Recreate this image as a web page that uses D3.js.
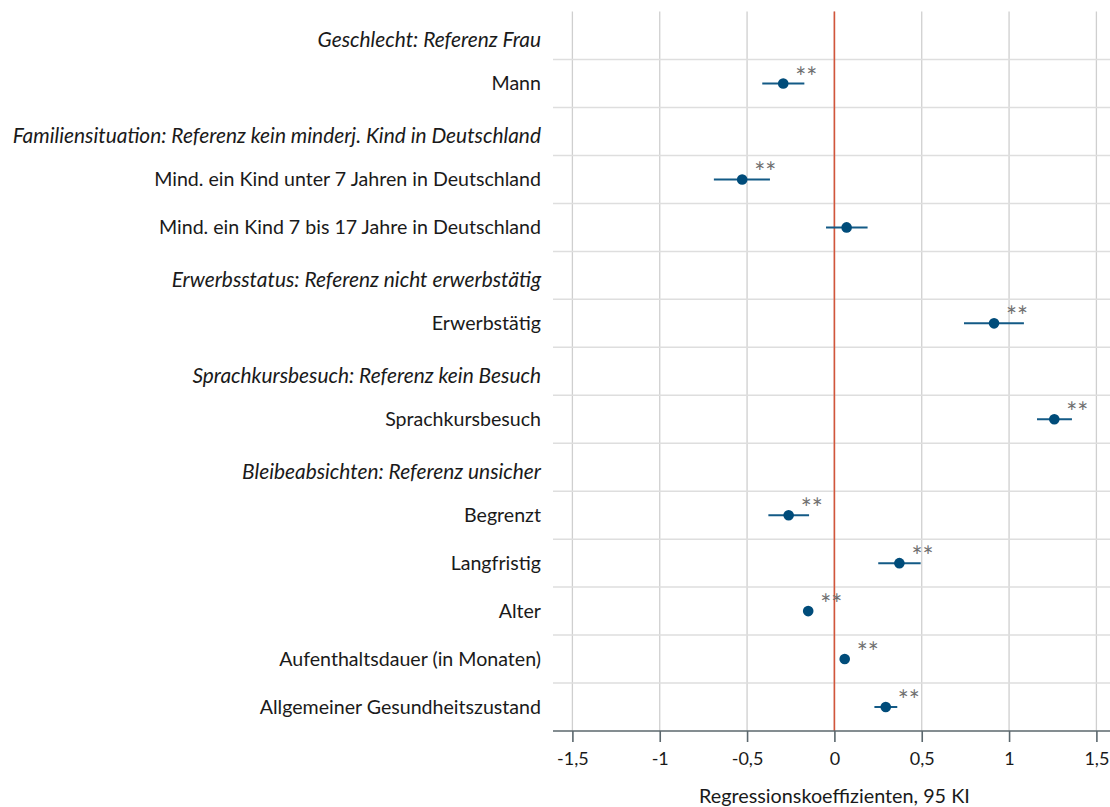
<!DOCTYPE html>
<html>
<head>
<meta charset="utf-8">
<script src="https://cdn.jsdelivr.net/npm/d3@7"></script>
<style>
  html, body { margin: 0; padding: 0; background: #fff; }
  svg { display: block; font-family: Lato, "Open Sans", sans-serif; }
</style>
</head>
<body>
<svg id="chart" width="1110" height="807"></svg>
<script>
// ---- data ----
const labels = [
  "Geschlecht: Referenz Frau",
  "Mann",
  "Familiensituation: Referenz kein minderj. Kind in Deutschland",
  "Mind. ein Kind unter 7 Jahren in Deutschland",
  "Mind. ein Kind 7 bis 17 Jahre in Deutschland",
  "Erwerbsstatus: Referenz nicht erwerbstätig",
  "Erwerbstätig",
  "Sprachkursbesuch: Referenz kein Besuch",
  "Sprachkursbesuch",
  "Bleibeabsichten: Referenz unsicher",
  "Begrenzt",
  "Langfristig",
  "Alter",
  "Aufenthaltsdauer (in Monaten)",
  "Allgemeiner Gesundheitszustand"
];
const isHeader = [true, false, true, false, false, true, false, true, false, true, false, false, false, false, false];
const coef   = [null, -0.293, null, -0.528, 0.070, null, 0.914, null, 1.259, null, -0.262, 0.372, -0.150, 0.059, 0.294];
const ciLow  = [null, -0.413, null, -0.690, -0.048, null, 0.742, null, 1.160, null, -0.378, 0.251, -0.156, 0.053, 0.229];
const ciHigh = [null, -0.172, null, -0.369, 0.190, null, 1.085, null, 1.360, null, -0.145, 0.494, -0.144, 0.065, 0.360];
const signif = [null, "**", null, "**", "", null, "**", null, "**", null, "**", "**", "**", "**", "**"];
const xTicks = [-1.5, -1, -0.5, 0, 0.5, 1, 1.5];
const xTitle = "Regressionskoeffizienten, 95 KI";

// ---- layout ----
const svg = d3.select("#chart");
const plotLeft = 553, plotRight = 1110, plotTop = 11.6, plotBottom = 731;
const labelX = 541;

const x = d3.scaleLinear().domain([-1.5, 1.5]).range([572.4, 1096.4]);
const y = d3.scaleBand().domain(d3.range(labels.length)).range([plotTop, plotBottom]);
const yc = i => y(i) + y.bandwidth() / 2;

// vertical grid lines
svg.append("g").selectAll("line").data(xTicks).join("line")
  .attr("x1", d => x(d)).attr("x2", d => x(d))
  .attr("y1", plotTop).attr("y2", plotBottom)
  .attr("stroke", "#cfcfcf").attr("stroke-width", 1.3);

// horizontal grid lines (between rows)
svg.append("g").selectAll("line").data(d3.range(1, labels.length)).join("line")
  .attr("x1", plotLeft).attr("x2", plotRight)
  .attr("y1", d => y(d)).attr("y2", d => y(d))
  .attr("stroke", "#dedede").attr("stroke-width", 1.5);

// zero reference line
svg.append("line")
  .attr("x1", x(0)).attr("x2", x(0))
  .attr("y1", plotTop).attr("y2", plotBottom)
  .attr("stroke", "#d2553b").attr("stroke-width", 1.6);

// x axis
const axisG = svg.append("g").attr("transform", `translate(0,${plotBottom})`);
axisG.append("line").attr("x1", plotLeft).attr("x2", plotRight)
  .attr("y1", 0).attr("y2", 0).attr("stroke", "#5b676d").attr("stroke-width", 1.6);
const xAxis = d3.axisBottom(x).tickValues(xTicks).tickSize(11).tickPadding(10)
  .tickFormat(d => String(d).replace(".", ","));
const ax = svg.append("g").attr("transform", `translate(0,${plotBottom})`).call(xAxis);
ax.select(".domain").remove();
ax.selectAll(".tick line").attr("stroke", "#5b676d").attr("stroke-width", 1.6);
ax.selectAll(".tick text").attr("fill", "#1a1a1a").style("font-size", "18px")
  .style("font-family", "Lato, sans-serif");

svg.append("text")
  .attr("x", x(0)).attr("y", 803)
  .attr("text-anchor", "middle")
  .attr("fill", "#1a1a1a")
  .style("font-size", "19.8px")
  .text(xTitle);

// row labels
svg.append("g").selectAll("text").data(labels).join("text")
  .attr("x", labelX)
  .attr("y", (d, i) => yc(i) + (isHeader[i] ? 4 : 0))
  .attr("dy", "0.35em")
  .attr("text-anchor", "end")
  .attr("fill", "#1a1a1a")
  .style("font-size", (d, i) => isHeader[i] ? "20.9px" : "19.6px")
  .style("font-style", (d, i) => isHeader[i] ? "italic" : "normal")
  .text(d => d);

const rows = d3.range(labels.length).filter(i => coef[i] !== null);

// CI lines
svg.append("g").selectAll("line").data(rows).join("line")
  .attr("x1", i => x(ciLow[i])).attr("x2", i => x(ciHigh[i]))
  .attr("y1", i => yc(i)).attr("y2", i => yc(i))
  .attr("stroke", "#135a86").attr("stroke-width", 2);

// points
svg.append("g").selectAll("circle").data(rows).join("circle")
  .attr("cx", i => x(coef[i])).attr("cy", i => yc(i))
  .attr("r", 5.3)
  .attr("fill", "#004c7a");

// significance stars
svg.append("g").selectAll("text").data(rows).join("text")
  .attr("x", i => x(coef[i]) + 12)
  .attr("y", i => yc(i) + 3)
  .attr("fill", "#707070")
  .style("font-family", "Lato, sans-serif")
  .style("font-size", "26px")
  .text(i => signif[i]);
</script>
</body>
</html>
